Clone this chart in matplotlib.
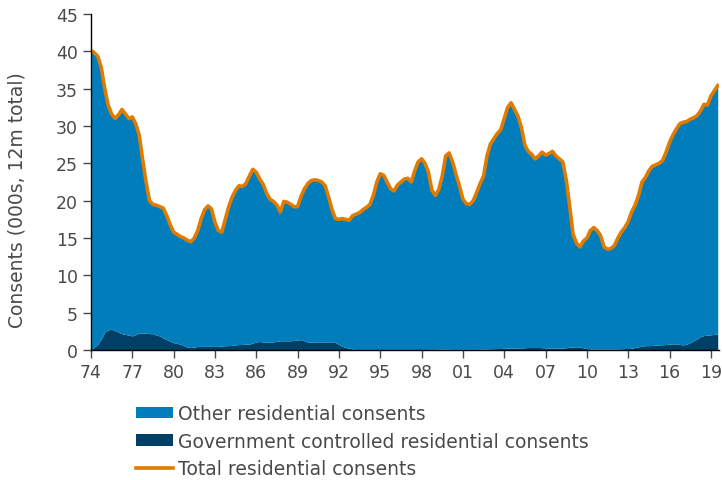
import matplotlib
matplotlib.use('Agg')
import matplotlib.pyplot as plt
import numpy as np
from matplotlib.patches import Patch
from matplotlib.lines import Line2D

plt.rcParams['font.family'] = ['DejaVu Sans']

# quarterly points, 1974Q1 .. 2019Q3 (thousands, 12m total)
total = [
    40.1, 39.8, 39.3, 37.8,  35.0, 32.8, 31.6, 31.0,  31.5, 32.2, 31.6, 31.0,
    31.2, 30.3, 28.8, 25.5,  22.5, 20.0, 19.5, 19.4,  19.2, 19.0, 18.0, 16.8,
    15.8, 15.5, 15.2, 15.0,  14.7, 14.5, 15.0, 16.0,  17.6, 18.8, 19.3, 18.9,
    17.1, 16.0, 15.8, 17.5,  19.2, 20.5, 21.4, 22.0,  21.9, 22.3, 23.3, 24.2,
    23.8, 22.9, 22.2, 21.0,  20.2, 19.9, 19.4, 18.5,  19.9, 19.8, 19.5, 19.2,
    19.2, 20.6, 21.6, 22.3,  22.7, 22.8, 22.7, 22.5,  22.0, 20.5, 18.8, 17.6,
    17.5, 17.6, 17.5, 17.4,  18.0, 18.2, 18.4, 18.8,  19.1, 19.5, 20.7, 22.5,
    23.6, 23.4, 22.5, 21.6,  21.3, 22.1, 22.5, 22.9,  23.0, 22.5, 24.0, 25.2,
    25.6, 25.0, 23.8, 21.4,  20.7, 21.5, 23.3, 26.0,  26.4, 25.2, 23.5, 22.0,
    20.2, 19.6, 19.5, 20.0,  21.1, 22.3, 23.3, 26.0,  27.6, 28.3, 29.0, 29.5,
    31.0, 32.5, 33.1, 32.2,  31.3, 29.8, 27.4, 26.6,  26.2, 25.6, 26.0, 26.5,
    26.1, 26.3, 26.6, 26.0,  25.6, 25.2, 22.8, 19.3,  15.5, 14.3, 13.8, 14.6,
    15.0, 16.0, 16.4, 16.0,  15.3, 13.8, 13.5, 13.6,  14.0, 15.0, 15.8, 16.4,
    17.2, 18.5, 19.4, 20.7,  22.5, 23.1, 24.0, 24.6,  24.8, 25.0, 25.4, 26.5,
    27.8, 28.8, 29.6, 30.3,  30.5, 30.6, 30.9, 31.1,  31.4, 32.0, 32.9, 32.8,
    34.0, 34.7, 35.4,
]
govt = [
    0.1, 0.4, 0.8, 1.5,  2.4, 2.7, 2.8, 2.6,  2.4, 2.2, 2.1, 2.0,
    1.9, 2.1, 2.3, 2.3,  2.3, 2.2, 2.2, 2.0,  1.9, 1.6, 1.4, 1.2,
    1.0, 0.9, 0.8, 0.6,  0.4, 0.35, 0.4, 0.5,  0.5, 0.5, 0.5, 0.5,
    0.5, 0.5, 0.55, 0.6,  0.6, 0.65, 0.7, 0.75,  0.75, 0.8, 0.8, 0.95,
    1.1, 1.15, 1.1, 1.05,  1.05, 1.1, 1.2, 1.25,  1.25, 1.25, 1.25, 1.3,
    1.35, 1.4, 1.25, 1.05,  1.05, 1.1, 1.1, 1.1,  1.1, 1.1, 1.1, 1.0,
    0.75, 0.5, 0.35, 0.25,  0.15, 0.08, 0.05, 0.05,  0.05, 0.05, 0.05, 0.05,
    0.05, 0.05, 0.05, 0.05,  0.05, 0.05, 0.05, 0.05,  0.05, 0.05, 0.08, 0.08,
    0.08, 0.08, 0.1, 0.1,  0.1, 0.15, 0.15, 0.15,  0.12, 0.1, 0.1, 0.1,
    0.1, 0.1, 0.1, 0.1,  0.1, 0.12, 0.15, 0.15,  0.18, 0.2, 0.2, 0.22,
    0.25, 0.25, 0.25, 0.28,  0.3, 0.3, 0.32, 0.35,  0.35, 0.35, 0.35, 0.33,
    0.3, 0.3, 0.28, 0.25,  0.25, 0.28, 0.32, 0.4,  0.42, 0.45, 0.42, 0.3,
    0.2, 0.15, 0.15, 0.15,  0.15, 0.15, 0.15, 0.15,  0.15, 0.15, 0.18, 0.2,
    0.22, 0.25, 0.35, 0.45,  0.55, 0.6, 0.6, 0.62,  0.65, 0.7, 0.72, 0.75,
    0.8, 0.85, 0.82, 0.75,  0.7, 0.8, 1.0, 1.25,  1.5, 1.8, 1.95, 2.0,
    2.05, 2.1, 2.15,
]
tick_years = list(range(1974, 2020, 3))
tick_labels = ['%02d' % (y % 100) for y in tick_years]

years = 1974 + np.arange(len(total)) * 0.25
total = np.array(total)
govt = np.array(govt)

c_other = '#017dbb'
c_govt = '#003f66'
c_total = '#e07b00'
grey = '#4a4a4a'

fig = plt.figure(figsize=(7.22, 4.81), dpi=100)
ax = fig.add_axes([0.126, 0.27, 0.87, 0.699])

ax.fill_between(years, 0, govt, color=c_govt, lw=0)
ax.fill_between(years, govt, total, color=c_other, lw=0)
ax.plot(years, total, color=c_total, lw=2.6)

ax.set_xlim(1974, 2019.6)
ax.set_ylim(0, 45)
ax.set_yticks(range(0, 46, 5))
ax.set_xticks(tick_years)
ax.set_xticklabels(tick_labels)

for s in ['top', 'right']:
    ax.spines[s].set_visible(False)
for s in ['left', 'bottom']:
    ax.spines[s].set_color('black')
    ax.spines[s].set_linewidth(1.0)
ax.tick_params(axis='both', colors=grey, labelsize=12.5, length=6, width=1.0)
ax.tick_params(axis='x', pad=3)
for t in ax.get_xticklines() + ax.get_yticklines():
    t.set_color(grey)

ax.set_ylabel('Consents (000s, 12m total)', color=grey, fontsize=13.5)
ax.yaxis.set_label_coords(-0.102, 0.45)

handles = [
    Patch(facecolor=c_other, edgecolor='none'),
    Patch(facecolor=c_govt, edgecolor='none'),
    Line2D([], [], color=c_total, lw=2.6),
]
labels = ['Other residential consents',
          'Government controlled residential consents',
          'Total residential consents']
leg = fig.legend(handles, labels, loc='upper left', bbox_to_anchor=(0.188, 0.158),
                 frameon=False, fontsize=13.5, handlelength=2.0, handleheight=0.55,
                 handletextpad=0.28, labelspacing=0.46, borderaxespad=0, borderpad=0)
for t in leg.get_texts():
    t.set_color(grey)

fig.savefig('out.png', dpi=100)
